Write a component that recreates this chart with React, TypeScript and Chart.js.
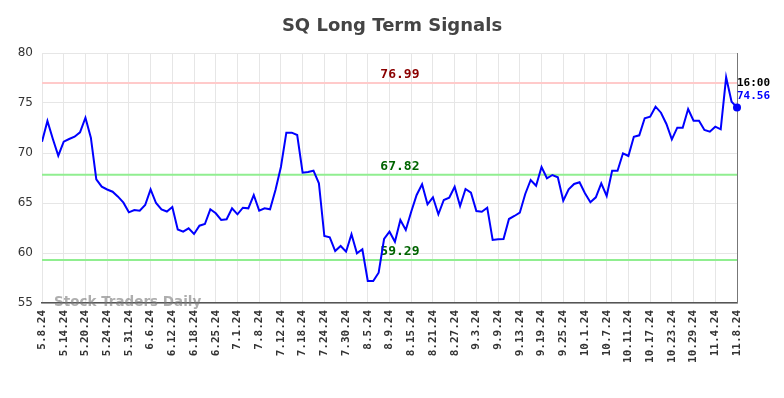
import React, { useEffect, useRef } from 'react';
import { Chart, registerables } from 'chart.js';

Chart.register(...registerables);

const TITLE = 'SQ Long Term Signals';
const WATERMARK = 'Stock Traders Daily';
const LAST_TIME = '16:00';

// tick labels on the x axis (one every 4 sessions)
const tickLabels = [
  '5.8.24', '5.14.24', '5.20.24', '5.24.24', '5.31.24', '6.6.24', '6.12.24', '6.18.24',
  '6.25.24', '7.1.24', '7.8.24', '7.12.24', '7.18.24', '7.24.24', '7.30.24', '8.5.24',
  '8.9.24', '8.15.24', '8.21.24', '8.27.24', '9.3.24', '9.9.24', '9.13.24', '9.19.24',
  '9.25.24', '10.1.24', '10.7.24', '10.11.24', '10.17.24', '10.23.24', '10.29.24', '11.4.24',
  '11.8.24',
];
const SESSIONS_PER_TICK = 4;

// closing values, one per session
const values = [
  71.13, 73.2, 71.4, 69.73, 71.13, 71.4, 71.63, 72.07, 73.53, 71.53,
  67.37, 66.63, 66.35, 66.13, 65.63, 65.03, 64.07, 64.3, 64.23, 64.8,
  66.37, 65.0, 64.35, 64.15, 64.6, 62.35, 62.13, 62.47, 61.9, 62.73,
  62.9, 64.37, 63.97, 63.3, 63.37, 64.47, 63.87, 64.53, 64.47, 65.8,
  64.23, 64.47, 64.37, 66.3, 68.6, 72.03, 72.03, 71.8, 68.03, 68.1,
  68.23, 66.97, 61.7, 61.57, 60.2, 60.7, 60.13, 61.87, 59.97, 60.37,
  57.2, 57.2, 58.03, 61.4, 62.13, 61.13, 63.3, 62.3, 64.13, 65.8,
  66.87, 64.87, 65.57, 63.87, 65.3, 65.53, 66.63, 64.7, 66.4, 66.03,
  64.2, 64.13, 64.53, 61.3, 61.37, 61.4, 63.4, 63.7, 64.03, 65.9,
  67.3, 66.73, 68.6, 67.47, 67.8, 67.57, 65.23, 66.37, 66.9, 67.07,
  65.97, 65.07, 65.57, 66.97, 65.7, 68.23, 68.23, 69.97, 69.7, 71.63,
  71.77, 73.47, 73.63, 74.63, 74.03, 72.9, 71.37, 72.53, 72.53, 74.4,
  73.23, 73.23, 72.3, 72.13, 72.63, 72.37, 77.57, 75.13, 74.56,
];

const upperLevel = 76.99;
const middleLevel = 67.82;
const lowerLevel = 59.29;

const Y_MIN = 55;
const Y_MAX = 80;
const Y_STEP = 5;

const MONO = '"DejaVu Sans Mono", monospace';
const SANS = '"DejaVu Sans", sans-serif';

const overlayPlugin = {
  id: 'overlay',
  beforeDatasetsDraw(chart: any) {
    const { ctx, chartArea: a, scales } = chart;
    const y = scales.y;
    ctx.save();
    // title
    ctx.fillStyle = '#444';
    ctx.font = `bold 18px ${SANS}`;
    ctx.textAlign = 'center';
    ctx.textBaseline = 'middle';
    ctx.fillText(TITLE, chart.width / 2, 26);

    // right border
    ctx.strokeStyle = '#777';
    ctx.lineWidth = 1;
    ctx.beginPath();
    ctx.moveTo(a.right + 0.5, a.top);
    ctx.lineTo(a.right + 0.5, a.bottom);
    ctx.stroke();

    const levels: [number, string, string][] = [
      [upperLevel, '#ffcaca', '#8b0000'],
      [middleLevel, '#90ee90', '#006400'],
      [lowerLevel, '#90ee90', '#006400'],
    ];
    const cx = a.left + (a.right - a.left) * 0.515;
    for (const [lv, lineColor, textColor] of levels) {
      const py = y.getPixelForValue(lv);
      ctx.strokeStyle = lineColor;
      ctx.lineWidth = 2;
      ctx.beginPath();
      ctx.moveTo(a.left, py);
      ctx.lineTo(a.right, py);
      ctx.stroke();
      ctx.fillStyle = textColor;
      ctx.font = `bold 13px ${MONO}`;
      ctx.textAlign = 'center';
      ctx.textBaseline = 'middle';
      ctx.fillText(lv.toFixed(2), cx, py - 8);
    }

    // watermark
    ctx.fillStyle = 'rgba(120,120,120,0.6)';
    ctx.font = `bold 13.5px ${SANS}`;
    ctx.textAlign = 'left';
    ctx.textBaseline = 'middle';
    ctx.fillText(WATERMARK, a.left + 12, a.bottom - 1);
    ctx.restore();
  },
  afterDatasetsDraw(chart: any) {
    const { ctx, chartArea: a, scales } = chart;
    const lastIdx = values.length - 1;
    const px = scales.x.getPixelForValue(lastIdx);
    const py = scales.y.getPixelForValue(values[lastIdx]);
    ctx.save();
    ctx.fillStyle = '#0000ff';
    ctx.beginPath();
    ctx.arc(px, py, 4, 0, Math.PI * 2);
    ctx.fill();
    ctx.font = `bold 11px ${MONO}`;
    ctx.textAlign = 'left';
    ctx.textBaseline = 'middle';
    ctx.fillStyle = '#000';
    ctx.fillText(LAST_TIME, a.right, py - 24);
    ctx.fillStyle = '#0000ff';
    ctx.fillText(values[lastIdx].toFixed(2), a.right, py - 11);
    ctx.restore();
  },
};

export default function App() {
  const ref = useRef<HTMLCanvasElement | null>(null);
  useEffect(() => {
    if (!ref.current) return;
    const chart = new Chart(ref.current, {
      type: 'line',
      data: {
        datasets: [
          {
            data: values.map((v, i) => ({ x: i, y: v })),
            borderColor: '#0000ff',
            borderWidth: 2,
            pointRadius: 0,
            tension: 0,
            fill: false,
          },
        ],
      },
      options: {
        animation: false,
        responsive: false,
        devicePixelRatio: 1,
        layout: { padding: { top: 53, right: 47, left: 0, bottom: 0 } },
        plugins: {
          legend: { display: false },
          title: { display: false },
          tooltip: { enabled: false },
        },
        scales: {
          x: {
            type: 'linear',
            min: 0,
            max: values.length - 1,
            afterFit: (s: any) => { s.height = 95; },
            grid: { color: '#e6e6e6', lineWidth: 1, drawTicks: false },
            border: { display: true, color: '#555', width: 1.5 },
            ticks: {
              stepSize: SESSIONS_PER_TICK,
              autoSkip: false,
              minRotation: 90,
              maxRotation: 90,
              padding: 7,
              color: '#333',
              font: { family: MONO, size: 11, weight: 'bold' },
              callback: (v: any) => tickLabels[Math.round(Number(v) / SESSIONS_PER_TICK)] ?? '',
            },
          },
          y: {
            min: Y_MIN,
            max: Y_MAX,
            afterFit: (s: any) => { s.width = 42; },
            grid: { color: '#e6e6e6', lineWidth: 1, drawTicks: false },
            border: { display: false },
            ticks: {
              stepSize: Y_STEP,
              padding: 9,
              color: '#333',
              font: { family: SANS, size: 12 },
            },
          },
        },
      },
      plugins: [overlayPlugin],
    } as any);
    return () => chart.destroy();
  }, []);
  return (
    <div style={{ position: 'absolute', left: 0, top: 0, width: 784, height: 398, background: '#fff' }}>
      <canvas ref={ref} width={784} height={398} style={{ display: 'block' }} />
    </div>
  );
}
